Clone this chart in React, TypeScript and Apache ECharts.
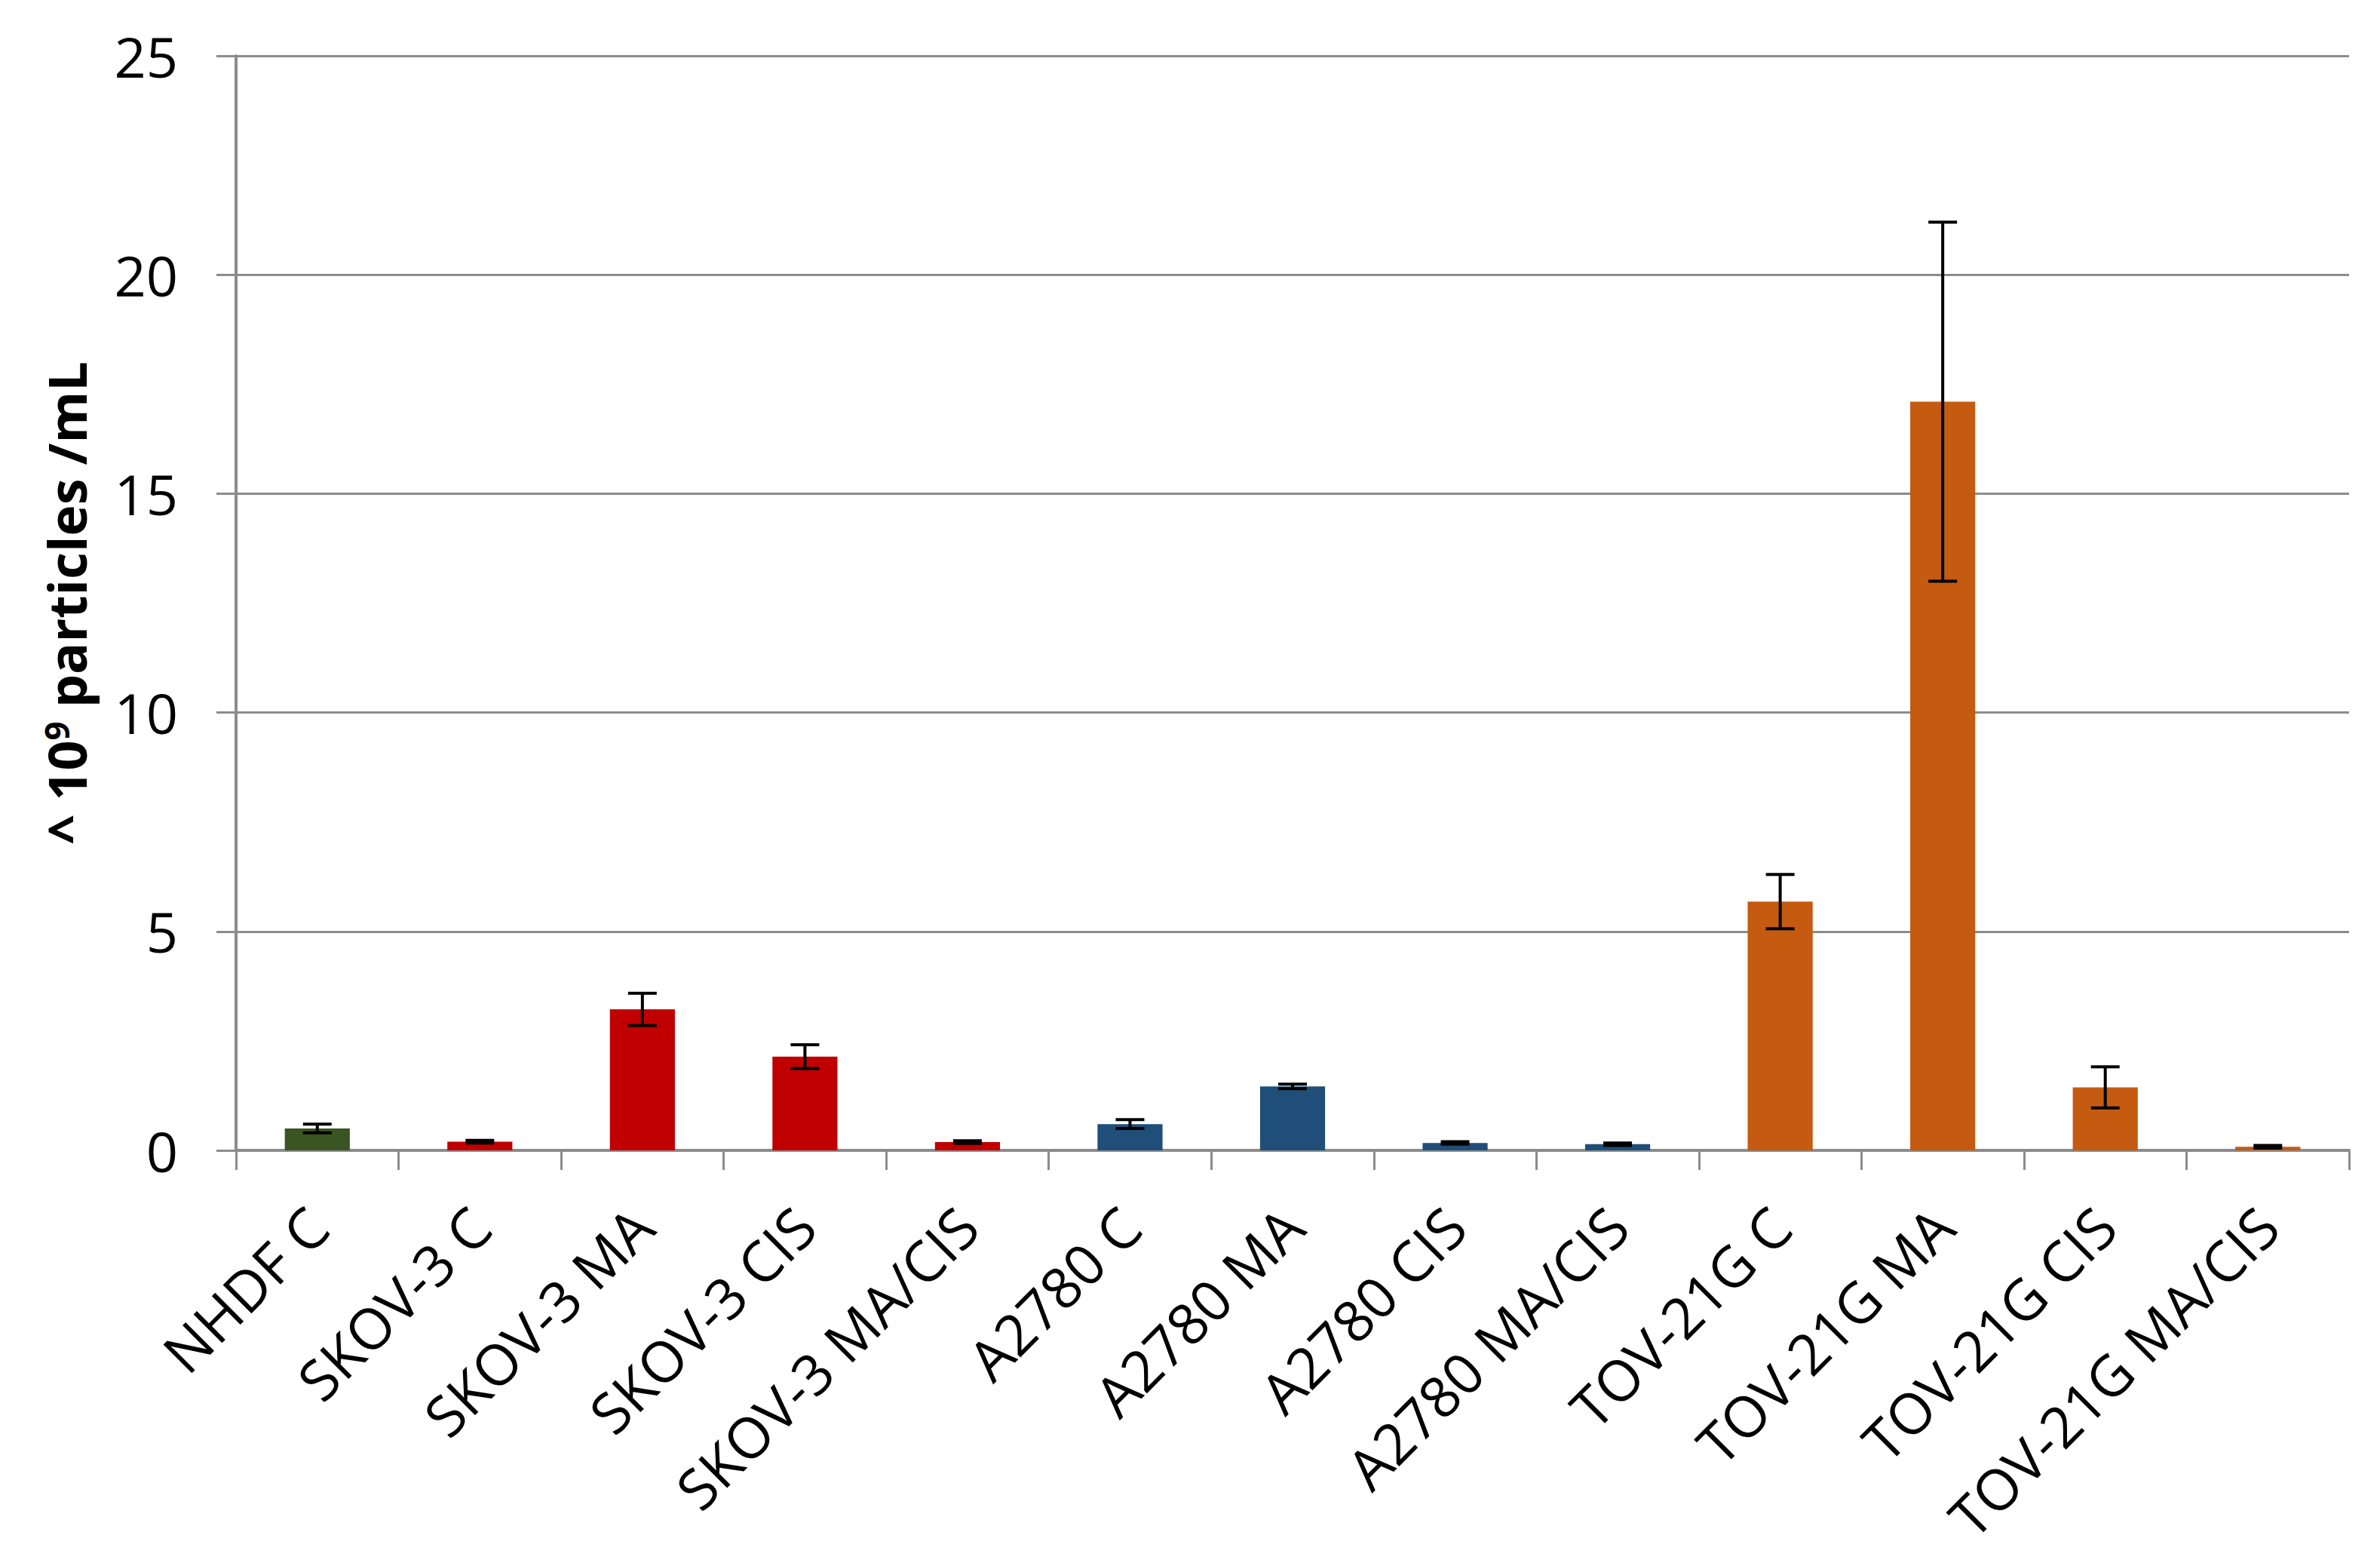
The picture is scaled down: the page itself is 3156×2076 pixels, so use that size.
import React, { useEffect, useRef } from "react";
import * as echarts from "echarts";

const categories = [
  "NHDF C",
  "SKOV-3 C",
  "SKOV-3 MA",
  "SKOV-3 CIS",
  "SKOV-3 MA/CIS",
  "A2780 C",
  "A2780 MA",
  "A2780 CIS",
  "A2780 MA/CIS",
  "TOV-21G C",
  "TOV-21G MA",
  "TOV-21G CIS",
  "TOV-21G MA/CIS",
];
const values = [0.5, 0.2, 3.22, 2.14, 0.19, 0.6, 1.46, 0.17, 0.14, 5.68, 17.1, 1.44, 0.08];
const errors = [0.1, 0.03, 0.37, 0.27, 0.03, 0.1, 0.05, 0.03, 0.03, 0.62, 4.1, 0.47, 0.03];
const groupOf = [0, 1, 1, 1, 1, 2, 2, 2, 2, 3, 3, 3, 3];
const groupColors = ["#3A5422", "#C00000", "#1F4E79", "#C55A11"];
const yTicks = { min: 0, max: 25, interval: 5 };

const FONT = "'Open Sans', 'Noto Sans', sans-serif";
const GRAY = "#8C8C8C";

export default function App() {
  const ref = useRef<HTMLDivElement>(null);
  useEffect(() => {
    if (!ref.current) return;
    const chart = echarts.init(ref.current, undefined, { renderer: "svg" });
    chart.setOption({
      animation: false,
      backgroundColor: "#ffffff",
      grid: { left: 313, right: 41, top: 74, bottom: 551, containLabel: false },
      xAxis: {
        type: "category",
        data: categories,
        axisLine: { lineStyle: { color: GRAY, width: 4 } },
        axisTick: { show: true, length: 26, lineStyle: { color: GRAY, width: 3 } },
        axisLabel: {
          interval: 0,
          rotate: 45,
          margin: 88,
          color: "#000",
          fontFamily: FONT,
          fontSize: 75,
          lineHeight: 80,
        },
      },
      yAxis: {
        type: "value",
        min: yTicks.min,
        max: yTicks.max,
        interval: yTicks.interval,
        name: "{t|^ 10}{s|9}{t| particles /mL}",
        nameLocation: "middle",
        nameRotate: 90,
        nameGap: 190,
        nameTextStyle: {
          rich: {
            t: { fontFamily: FONT, fontWeight: "bold", fontSize: 70, color: "#000" },
            s: {
              fontFamily: FONT,
              fontWeight: "bold",
              fontSize: 44,
              color: "#000",
              verticalAlign: "top",
            },
          },
        },
        axisLine: { show: true, lineStyle: { color: GRAY, width: 4 } },
        axisTick: { show: true, length: 26, lineStyle: { color: GRAY, width: 3 } },
        axisLabel: { margin: 77, color: "#000", fontFamily: FONT, fontSize: 74 },
        splitLine: { show: true, lineStyle: { color: GRAY, width: 3 } },
      },
      series: [
        {
          type: "bar",
          barCategoryGap: "60%",
          data: values.map((v, i) => ({
            value: v,
            itemStyle: { color: groupColors[groupOf[i]] },
          })),
        },
        {
          type: "custom",
          z: 10,
          data: values.map((v, i) => [i, v, errors[i]]),
          encode: { x: 0, y: 1 },
          renderItem: (params: any, api: any) => {
            const i = api.value(0);
            const v = api.value(1);
            const e = api.value(2);
            const top = api.coord([i, v + e]);
            const bot = api.coord([i, v - e]);
            const hw = 19;
            const style = { stroke: "#000", lineWidth: 4 };
            return {
              type: "group",
              children: [
                { type: "line", shape: { x1: top[0], y1: top[1], x2: bot[0], y2: bot[1] }, style },
                { type: "line", shape: { x1: top[0] - hw, y1: top[1], x2: top[0] + hw, y2: top[1] }, style },
                { type: "line", shape: { x1: bot[0] - hw, y1: bot[1], x2: bot[0] + hw, y2: bot[1] }, style },
              ],
            };
          },
        },
      ],
    });
    return () => chart.dispose();
  }, []);
  return (
    <div
      ref={ref}
      style={{ position: "absolute", left: 0, top: 0, width: 3156, height: 2076 }}
    />
  );
}
